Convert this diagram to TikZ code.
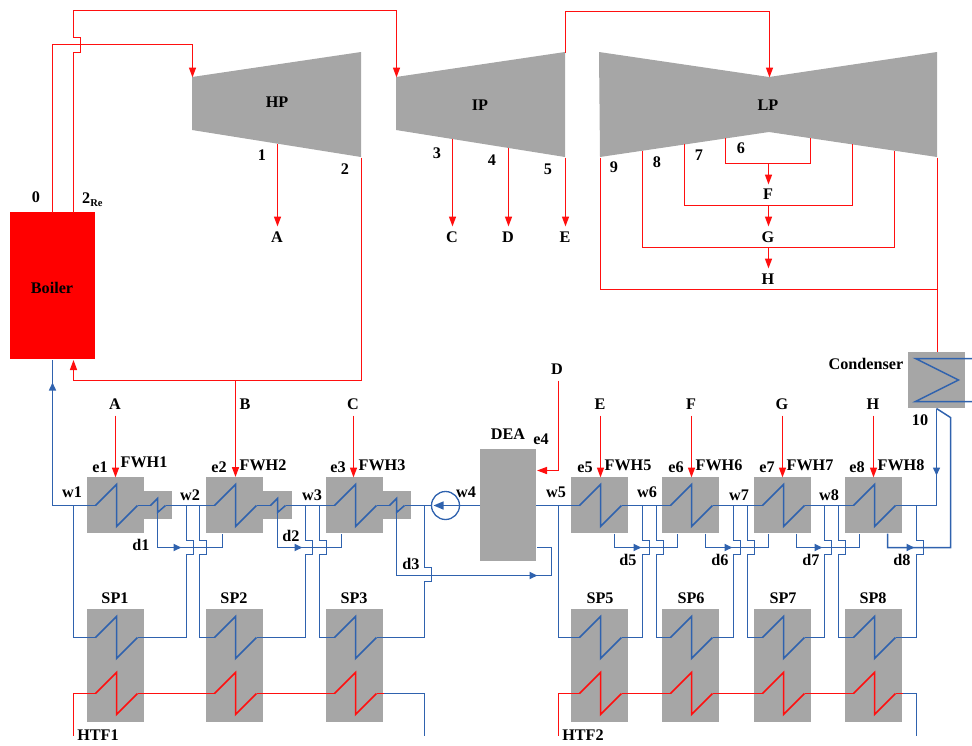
\documentclass[tikz,border=0pt]{standalone}
\usepackage{fontspec}
\setmainfont{Liberation Serif}
\usetikzlibrary{arrows.meta}
\definecolor{pipeblue}{HTML}{2F62AE}
\definecolor{pipered}{HTML}{FF0F0F}
\definecolor{boxgray}{HTML}{A6A6A6}
\newcounter{lb}
\tikzset{
  pic base/.style={x=1pt,y=-1pt},
  lbl/.style={font=\fontsize{16.2}{17}\selectfont\bfseries,text=black,inner sep=0pt},
  graybox/.style={fill=boxgray,draw=none,inner sep=0pt,anchor=north west},
  bp/.style={draw=pipeblue,line width=1.5pt,line join=miter},
  rp/.style={draw=pipered,line width=1.5pt,line join=miter},
  tipped/.style={-{Triangle[length=10pt,width=7pt]}},
  midtip/.style={line width=1.9pt,-{Triangle[length=8pt,width=7pt]}},
}
\newcommand{\lab}[3]{\stepcounter{lb}\node[lbl] (t\thelb) at ({#1-0.5},{#2-0.5}) {#3};}
% gray box
\newcommand{\gbox}[5]{\node[graybox,minimum width=#4pt,minimum height=#5pt] (#1) at ({#2-0.5},{#3-0.5}) {};}
% coil: name, x0, yc, style
\newcommand{\coil}[4]{%
  \coordinate (#1-in) at ({#2+8},#3);
  \coordinate (#1-top) at ({#2+29},{#3-21});
  \coordinate (#1-bot) at ({#2+29},{#3+21});
  \coordinate (#1-out) at ({#2+50},#3);
  \draw[#4] (#1-in) -- (#1-top) -- (#1-bot) -- (#1-out);}
% small coil in drain cooler: name, x(centre), yc
\newcommand{\scoil}[3]{%
  \coordinate (#1-in) at ({#2-7},#3);
  \coordinate (#1-top) at (#2,{#3-7});
  \coordinate (#1-bot) at (#2,{#3+7});
  \coordinate (#1-out) at ({#2+8},#3);
  \draw[bp] (#1-in) -- (#1-top) -- (#1-bot) -- (#1-out);}
% vertical pipe with a jump to the right over the drain line
\newcommand{\jogdown}[4]{%
  \draw[bp] (#1,#2) -- (#1,#3) -- ({#1+7},#3) -- ({#1+7},{#3+14}) -- (#1,{#3+14}) -- #4;}
\begin{document}
\begin{tikzpicture}[pic base]
\useasboundingbox (-0.5,-0.5) rectangle (971.5,744.5);
% --- turbines ---
\coordinate (hpin) at (192,77);
\coordinate (hpout) at (361,157);
\coordinate (ipin) at (396,77);
\coordinate (ipout) at (565,52);
\coordinate (ip5) at (565,157);
\coordinate (lpin) at (769,77);
\coordinate (lp9r) at (937,157);
\coordinate (lp9l) at (600,157);
\fill[boxgray,shift={(-0.5,-0.5)}] (192,77) -- (361,52) -- (361,157) -- (192,130) -- cycle;
\fill[boxgray,shift={(-0.5,-0.5)}] (396,77) -- (565,52) -- (565,157) -- (396,130) -- cycle;
\fill[boxgray,shift={(-0.5,-0.5)}] (599,52) -- (769,77) -- (937,52) -- (937,157) -- (769,132) -- (600,157) -- cycle;
% --- boiler, condenser, DEA ---
\node[graybox,fill=red,minimum width=85pt,minimum height=147pt] (boiler) at (9.5,211.5) {};
\gbox{cond}{908}{352}{57}{56}
\gbox{dea}{480}{449}{56}{112}
% --- feed water heaters ---
\gbox{fwh1}{87}{477}{57}{56}
\gbox{fwh2}{206}{477}{57}{56}
\gbox{fwh3}{326}{477}{57}{56}
\gbox{fwh5}{571}{477}{57}{56}
\gbox{fwh6}{662}{477}{57}{56}
\gbox{fwh7}{754}{477}{57}{56}
\gbox{fwh8}{845}{477}{57}{56}
\gbox{dc1}{144}{491}{28}{28}
\gbox{dc2}{263}{491}{29}{28}
\gbox{dc3}{383}{491}{28}{28}
% --- solar preheaters ---
\gbox{sp1}{87}{609}{57}{113}
\gbox{sp2}{206}{609}{57}{113}
\gbox{sp3}{326}{609}{57}{113}
\gbox{sp5}{571}{609}{57}{113}
\gbox{sp6}{662}{609}{57}{113}
\gbox{sp7}{754}{609}{57}{113}
\gbox{sp8}{845}{609}{57}{113}
% --- coils ---
\coil{fc1}{87}{505}{bp}\coil{fc2}{206}{505}{bp}\coil{fc3}{326}{505}{bp}
\coil{fc5}{571}{505}{bp}\coil{fc6}{662}{505}{bp}\coil{fc7}{754}{505}{bp}\coil{fc8}{845}{505}{bp}
\scoil{sc1}{157}{505}\scoil{sc2}{277}{505}\scoil{sc3}{396}{505}
\coil{sb1}{87}{637}{bp}\coil{sb2}{206}{637}{bp}\coil{sb3}{326}{637}{bp}
\coil{sb5}{571}{637}{bp}\coil{sb6}{662}{637}{bp}\coil{sb7}{754}{637}{bp}\coil{sb8}{845}{637}{bp}
\coil{sr1}{87}{693}{rp}\coil{sr2}{206}{693}{rp}\coil{sr3}{326}{693}{rp}
\coil{sr5}{571}{693}{rp}\coil{sr6}{662}{693}{rp}\coil{sr7}{754}{693}{rp}\coil{sr8}{845}{693}{rp}
% --- steam lines ---
\draw[rp,tipped] (52,212) -- (52,44) -- (192,44) -- (hpin);
\draw[rp,tipped] (73,212) -- (73,52) -- (80,52) -- (80,37) -- (73,37) -- (73,10) -- (396,10) -- (ipin);
\draw[rp,tipped] (ipout) -- (565,11) -- (769,11) -- (lpin);
\draw[rp,tipped] (277,143) -- (277,226);
\draw[rp,tipped] (452,138) -- (452,226);
\draw[rp,tipped] (508,147) -- (508,226);
\draw[rp,tipped] (ip5) -- (565,226);
\draw[rp,tipped] (hpout) -- (361,380) -- (73,380) -- (73,359.5);
\draw[rp,tipped] (235,380) -- (235,476.5);
\draw[rp] (725,137) -- (725,163) -- (810,163) -- (810,137);
\draw[rp,tipped] (768,163) -- (768,184);
\draw[rp] (684,143) -- (684,205) -- (852,205) -- (852,143);
\draw[rp,tipped] (768,205) -- (768,226);
\draw[rp] (642,150) -- (642,247) -- (894,247) -- (894,150);
\draw[rp,tipped] (768,247) -- (768,268);
\draw[rp] (lp9l) -- (600,289) -- (937,289);
\draw[rp] (lp9r) -- (cond.north-|lp9r);
\draw[rp,tipped] (115,415) -- (115,477);
\draw[rp,tipped] (353,415) -- (353,477);
\draw[rp,tipped] (600,415) -- (600,477);
\draw[rp,tipped] (691,415) -- (691,477);
\draw[rp,tipped] (782,415) -- (782,477);
\draw[rp,tipped] (873,415) -- (873,477);
\draw[rp,tipped] (558,380) -- (558,470) -- (536.5,470);
% --- feed water main ---
\draw[bp] (fc1-in) -- (52,505) -- (52,359);
\draw[bp,-{Triangle[length=8pt,width=7pt]}] (52,420) -- (52,382);
\draw[bp] (fc1-out) -- (sc1-in);
\draw[bp] (sc1-out) -- (fc2-in);
\draw[bp] (fc2-out) -- (sc2-in);
\draw[bp] (sc2-out) -- (fc3-in);
\draw[bp] (fc3-out) -- (sc3-in);
\draw[bp] (sc3-out) -- (431,505);
\node[circle,draw=pipeblue,line width=1.3pt,minimum size=28pt,inner sep=0pt] (pump) at (445,505) {};
\draw[bp] (dea.west|-fc1-in) -- (pump.east);
\draw[bp,-{Triangle[length=10pt,width=8pt]}] (pump.east) -- (433,505);
\draw[bp] (dea.east|-fc1-in) -- (fc5-in);
\draw[bp] (fc5-out) -- (fc6-in);
\draw[bp] (fc6-out) -- (fc7-in);
\draw[bp] (fc7-out) -- (fc8-in);
\draw[bp] (fc8-out) -- (936,505) -- (936,470);
\draw[bp,-{Triangle[length=8pt,width=7pt]}] (936,408) -- (936,475);
% --- branches to solar preheaters ---
\draw[bp] (73,505) -- (73,637) -- (sb1-in);
\jogdown{186}{505}{540}{(186,637) -- (sb1-out)}
\jogdown{199}{505}{540}{(199,637) -- (sb2-in)}
\jogdown{305}{505}{540}{(305,637) -- (sb2-out)}
\jogdown{319}{505}{540}{(319,637) -- (sb3-in)}
\jogdown{424}{505}{567}{(424,637) -- (sb3-out)}
\draw[bp] (558,505) -- (558,637) -- (sb5-in);
\jogdown{642}{505}{540}{(642,637) -- (sb5-out)}
\jogdown{656}{505}{540}{(656,637) -- (sb6-in)}
\jogdown{733}{505}{540}{(733,637) -- (sb6-out)}
\jogdown{747}{505}{540}{(747,637) -- (sb7-in)}
\jogdown{824}{505}{540}{(824,637) -- (sb7-out)}
\jogdown{838}{505}{540}{(838,637) -- (sb8-in)}
\jogdown{916}{505}{540}{(916,637) -- (sb8-out)}
% --- drains ---
\draw[bp] (sc1-bot) -- (157,547) -- (222,547) -- (222,533);
\draw[bp,midtip] (157,547) -- (181,547);
\draw[bp] (sc2-bot) -- (277,547) -- (341,547) -- (341,533);
\draw[bp,midtip] (277,547) -- (302,547);
\draw[bp] (sc3-bot) -- (396,575) -- (551,575) -- (551,547) -- (536,547);
\draw[bp,midtip] (508,575) -- (537,575);
\draw[bp] (614,533) -- (614,547) -- (677,547) -- (677,533);
\draw[bp,midtip] (614,547) -- (641,547);
\draw[bp] (705,533) -- (705,547) -- (768,547) -- (768,533);
\draw[bp,midtip] (705,547) -- (732,547);
\draw[bp] (796,533) -- (796,547) -- (859,547) -- (859,533);
\draw[bp,midtip] (796,547) -- (822,547);
\draw[bp] (887,533) -- (887,547) -- (950,547) -- (950,417) -- (936,408);
\draw[bp,midtip] (887,547) -- (914,547);
% --- condenser coil ---
\draw[bp] (972,358) -- (915,358) -- (958,379.5) -- (915,401) -- (972,401);
% --- HTF lines ---
\draw[rp] (73,735) -- (73,693) -- (sr1-in);
\draw[rp] (sr1-out) -- (sr2-in);
\draw[rp] (sr2-out) -- (sr3-in);
\draw[rp] (sr3-out) -- (383,693);
\draw[bp] (383,693) -- (424,693) -- (424,735);
\draw[rp] (558,735) -- (558,693) -- (sr5-in);
\draw[rp] (sr5-out) -- (sr6-in);
\draw[rp] (sr6-out) -- (sr7-in);
\draw[rp] (sr7-out) -- (sr8-in);
\draw[rp] (sr8-out) -- (902,693);
\draw[bp] (902,693) -- (916,693) -- (916,735);
% --- labels ---
\lab{277}{102}{HP}\lab{480}{105}{IP}\lab{768}{105}{LP}
\lab{52}{288}{Boiler}
\lab{36}{197}{0}
\stepcounter{lb}\node[lbl,anchor=west] (t\thelb) at (81.5,199.5) {2\raisebox{-3pt}{\fontsize{10.5}{11}\selectfont Re}};
\lab{262}{155}{1}\lab{345}{169}{2}\lab{437}{153}{3}\lab{492}{160}{4}\lab{548}{169}{5}
\lab{741}{148}{6}\lab{699}{155}{7}\lab{657}{162}{8}\lab{614}{167}{9}
\lab{277}{237}{A}\lab{452}{237}{C}\lab{508}{237}{D}\lab{565}{237}{E}
\lab{768}{194}{F}\lab{768}{237}{G}\lab{768}{279}{H}
\lab{866}{364}{Condenser}\lab{920}{420}{10}
\lab{115}{404}{A}\lab{245}{404}{B}\lab{353}{404}{C}\lab{557}{369}{D}
\lab{600}{404}{E}\lab{691}{404}{F}\lab{782}{404}{G}\lab{873}{404}{H}
\lab{508}{434}{DEA}\lab{541}{439}{e4}
\lab{100}{467}{e1}\lab{144}{462}{FWH1}
\lab{219}{467}{e2}\lab{263}{465}{FWH2}
\lab{338}{467}{e3}\lab{382}{465}{FWH3}
\lab{585}{467}{e5}\lab{628}{465}{FWH5}
\lab{676}{467}{e6}\lab{719}{465}{FWH6}
\lab{767}{467}{e7}\lab{810}{465}{FWH7}
\lab{857}{467}{e8}\lab{901}{465}{FWH8}
\lab{72}{492}{w1}\lab{190}{495}{w2}\lab{312}{495}{w3}\lab{466}{492}{w4}
\lab{556}{492}{w5}\lab{647}{492}{w6}\lab{739}{495}{w7}\lab{829}{495}{w8}
\lab{141}{545}{d1}\lab{291}{536}{d2}\lab{411}{564}{d3}
\lab{628}{560}{d5}\lab{720}{560}{d6}\lab{811}{560}{d7}\lab{902}{560}{d8}
\lab{115}{598}{SP1}\lab{234}{598}{SP2}\lab{354}{598}{SP3}
\lab{600}{598}{SP5}\lab{691}{598}{SP6}\lab{783}{598}{SP7}\lab{873}{598}{SP8}
\lab{98}{735}{HTF1}\lab{583}{735}{HTF2}
\end{tikzpicture}
\end{document}
